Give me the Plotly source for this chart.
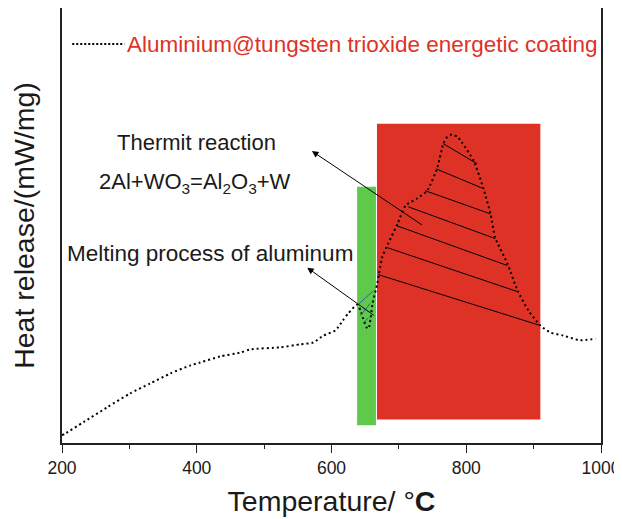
import plotly.graph_objects as go

# DSC curve (temperature in °C, heat release in arbitrary mW/mg units)
temperature = [200, 205, 232, 267, 301, 331, 361, 390, 405, 435, 465, 479, 524, 554, 573,
               588, 606, 617, 625, 638, 643, 647, 652, 655, 658, 661, 668, 675, 684, 698,
               710, 727, 742, 757, 766, 772, 779, 787, 794, 811, 825, 836, 843, 861, 876,
               892, 910, 925, 944, 969, 992]
heat_release = [0.18, 0.22, 0.48, 0.82, 1.14, 1.37, 1.60, 1.78, 1.85, 1.99, 2.08, 2.15, 2.20, 2.27, 2.31,
                2.47, 2.59, 2.82, 2.98, 3.18, 3.05, 2.86, 2.66, 2.63, 2.86, 3.21, 3.67, 4.26, 4.58, 5.04,
                5.46, 5.62, 5.80, 6.33, 6.88, 7.04, 7.09, 7.04, 6.90, 6.49, 5.87, 5.27, 4.72, 4.13, 3.51,
                3.05, 2.70, 2.54, 2.47, 2.36, 2.40]

series_name = "Aluminium@tungsten trioxide energetic coating"
x_tick_values = [200, 400, 600, 800, 1000]
x_tick_labels = ["200", "400", "600", "800", "1000"]

# highlighted temperature ranges (°C) and their heights
melting_range = [638, 666]
melting_height = [0.41, 5.89]
thermit_range = [667.5, 910]
thermit_height = [0.54, 7.34]

# hatch lines inside the exothermic peak
hatch_x0 = [766, 755.5, 739, 714, 696, 683, 669.5]
hatch_y0 = [6.88, 6.30, 5.80, 5.43, 5.00, 4.49, 3.87]
hatch_x1 = [816, 826.7, 835.7, 843, 861, 876, 910]
hatch_y1 = [6.42, 5.84, 5.27, 4.70, 4.08, 3.48, 2.70]

# hatch lines in the melting dip
melt_hatch_x0 = [638, 642.7, 647]
melt_hatch_y0 = [3.16, 2.93, 2.75]
melt_hatch_x1 = [662, 657.5, 654.6]
melt_hatch_y1 = [3.50, 3.21, 2.88]

RED = "#de3226"
GREEN = "#5fc94b"
BLUE = "#3b5ba5"
FONT = "Liberation Sans, Arial, sans-serif"

fig = go.Figure()

shapes = [
    dict(type="rect", xref="x", yref="y", x0=melting_range[0], x1=melting_range[1],
         y0=melting_height[0], y1=melting_height[1], fillcolor=GREEN, line=dict(width=0), layer="below"),
    dict(type="rect", xref="x", yref="y", x0=thermit_range[0], x1=thermit_range[1],
         y0=thermit_height[0], y1=thermit_height[1], fillcolor=RED, line=dict(width=0), layer="below"),
]
for a, b, c, d in zip(hatch_x0, hatch_y0, hatch_x1, hatch_y1):
    shapes.append(dict(type="line", xref="x", yref="y", x0=a, y0=b, x1=c, y1=d,
                       line=dict(color="black", width=1)))
for a, b, c, d in zip(melt_hatch_x0, melt_hatch_y0, melt_hatch_x1, melt_hatch_y1):
    shapes.append(dict(type="line", xref="x", yref="y", x0=a, y0=b, x1=c, y1=d,
                       line=dict(color=BLUE, width=1)))
# legend sample line
shapes.append(dict(type="line", xref="paper", yref="paper", x0=0.019, x1=0.116, y0=0.917, y1=0.917,
                   line=dict(color="black", width=2, dash="2px,2px")))

fig.add_trace(go.Scatter(
    x=temperature, y=heat_release, mode="lines", name=series_name,
    line=dict(color="black", width=2, dash="2px,3px", shape="spline", smoothing=0.6),
    showlegend=False, hoverinfo="x+y",
))

annotations = [
    dict(xref="paper", yref="paper", x=0.117, y=0.917, xanchor="left", yanchor="middle",
         text=series_name, showarrow=False, font=dict(size=22.5, color=RED, family=FONT)),
    dict(xref="x", yref="y", x=399, y=6.90, text="Thermit reaction", showarrow=False,
         font=dict(size=22, color="#1a1a1a", family=FONT)),
    dict(xref="x", yref="y", x=398, y=5.98,
         text="2Al+WO<sub>3</sub>=Al<sub>2</sub>O<sub>3</sub>+W", showarrow=False,
         font=dict(size=22, color="#1a1a1a", family=FONT)),
    dict(xref="x", yref="y", x=420, y=4.35, text="Melting process of aluminum", showarrow=False,
         font=dict(size=22.5, color="#1a1a1a", family=FONT)),
    # arrows
    dict(xref="x", yref="y", axref="x", ayref="y", x=571, y=6.71, ax=736.5, ay=4.99,
         text="", showarrow=True, arrowhead=2, arrowsize=1.3, arrowwidth=1, arrowcolor="black"),
    dict(xref="x", yref="y", axref="x", ayref="y", x=564, y=4.03, ax=665, ay=2.91,
         text="", showarrow=True, arrowhead=2, arrowsize=1.3, arrowwidth=1, arrowcolor="black"),
]

# the page adds an 8px body margin, so the figure is sized to fit the 622x519 window
fig.update_layout(
    width=614, height=509,
    margin=dict(l=54, r=21, t=0, b=74, autoexpand=False),
    paper_bgcolor="white", plot_bgcolor="white",
    shapes=shapes, annotations=annotations,
    font=dict(family=FONT, color="#1a1a1a"),
    xaxis=dict(
        range=[200, 1000], tickvals=x_tick_values, ticktext=x_tick_labels,
        ticks="outside", ticklen=8, tickwidth=1.3, tickcolor="#222",
        minor=dict(ticks="outside", dtick=100, ticklen=4.5, tickwidth=1.3, tickcolor="#222"),
        showline=True, linecolor="#222", linewidth=1.5, mirror=True,
        showgrid=False, zeroline=False, automargin=False, ticklabeloverflow="allow",
        tickfont=dict(size=17.5, family=FONT, color="#1a1a1a"),
        title=dict(text="Temperature/ °<b>C</b>", font=dict(size=28.5, family=FONT, color="#1a1a1a"),
                   standoff=18),
    ),
    yaxis=dict(
        range=[0, 10], showticklabels=False, ticks="",
        showline=True, linecolor="#222", linewidth=1.5, mirror=True,
        showgrid=False, zeroline=False, automargin=False,
        title=dict(text="Heat release/(mW/mg)", font=dict(size=28.5, family=FONT, color="#1a1a1a"),
                   standoff=20),
    ),
)

fig.write_html("out.html")
